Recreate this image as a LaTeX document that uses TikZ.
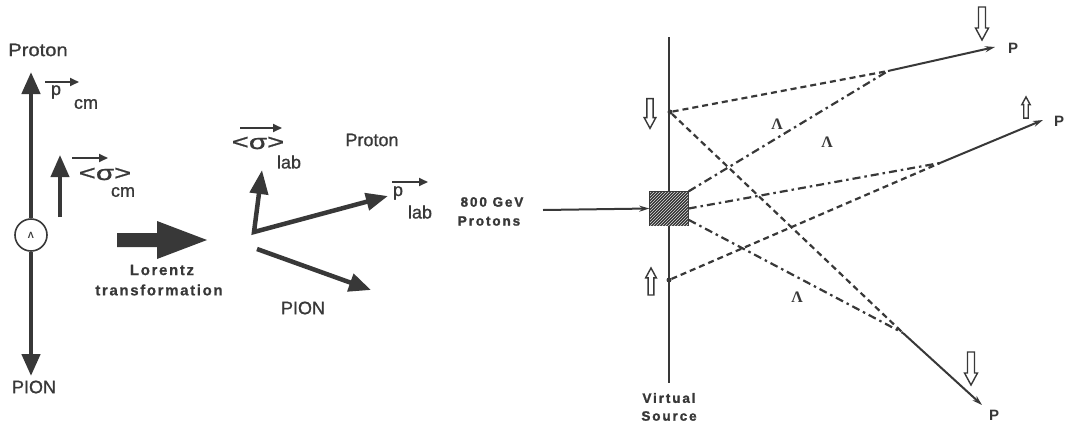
\documentclass[tikz,border=0pt]{standalone}
\usepackage{fontspec}
\setmainfont{Liberation Sans}
\newfontfamily\medfont[FakeBold=0.9]{Liberation Sans}
\newfontfamily\widebf[LetterSpace=14,FakeBold=1.5]{Liberation Sans}
\newfontfamily\midbf[LetterSpace=11,FakeBold=0.6]{Liberation Sans}
\newfontfamily\serifbf{Liberation Serif}
\usetikzlibrary{arrows.meta,patterns}
\definecolor{ink}{HTML}{383838}
\begin{document}
\begin{tikzpicture}[x=1pt,y=-1pt,
  every node/.style={text=ink, inner sep=0pt},
  lbl/.style={font=\medfont\fontsize{18}{18}\selectfont},
  sub/.style={font=\medfont\fontsize{18}{18}\selectfont},
  smallbf/.style={font=\widebf\bfseries\fontsize{13.5}{13.5}\selectfont},
  letterbf/.style={font=\serifbf\bfseries\fontsize{16}{16}\selectfont},
  bigarr/.style={draw=ink, line width=4.5pt, -{Triangle[length=22pt,width=18pt]}},
  vecarr/.style={draw=ink, line width=1.8pt, -{Triangle[length=9pt,width=8pt]}},
  track/.style={draw=ink, line width=2pt, -{Stealth[length=10pt,width=6pt]}},
  dashedtrk/.style={draw=ink, line width=2.2pt, dash pattern=on 6pt off 4pt},
  dashdot/.style={draw=ink, line width=2.2pt, dash pattern=on 8pt off 4pt on 2.5pt off 4pt},
  hdown/.pic={\draw[ink, line width=1.4pt, line join=miter] (-3.5,-16.5) -- (-3.5,4.5) -- (-6.5,4.5) -- (0,16.5) -- (6.5,4.5) -- (3.5,4.5) -- (3.5,-16.5) -- cycle;},
]
\useasboundingbox (0,0) rectangle (1067,429);
\fill[white] (0,0) rectangle (1067,429);

% ---------- left: centre-of-mass frame ----------
\node[circle, draw=ink, line width=1.6pt, minimum size=32pt, font=\bfseries\fontsize{9}{9}\selectfont] (lam) at (31,235) {Λ};
\coordinate (ptop) at (31,72);
\coordinate (pbot) at (31,376);
\draw[bigarr] (lam.north) -- (ptop);
\draw[bigarr] (lam.south) -- (pbot);
\node[lbl] (protL) at (38,50) {\scalebox{1.12}[1]{Proton}};
\node[lbl] (pionL) at (34,387) {PION};

\coordinate (sca) at (60,217);
\coordinate (scb) at (60,155);
\draw[bigarr, line width=4pt] (sca) -- (scb);

\node[sub] (pcm) at (56,92) {p};
\coordinate (pcv0) at (45,82);
\coordinate (pcv1) at (79,82);
\draw[vecarr] (pcv0) -- (pcv1);
\node[sub] (pcmsub) at (86,104) {cm};

\node[font=\medfont\fontsize{21}{21}\selectfont] (scm) at (105,174) {\scalebox{1.4}[1]{<σ>}};
\coordinate (scv0) at (72,158);
\coordinate (scv1) at (108,158);
\draw[vecarr] (scv0) -- (scv1);
\node[sub] (scmsub) at (123,192) {cm};

% ---------- Lorentz transformation arrow ----------
\fill[ink] (117,233) -- (157,233) -- (157,221) -- (207,240) -- (157,259) -- (157,247) -- (117,247) -- cycle;
\node[font=\midbf\bfseries\fontsize{15}{15}\selectfont] (lor1) at (162,270) {Lorentz};
\node[font=\midbf\bfseries\fontsize{15}{15}\selectfont] (lor2) at (159,290) {transformation};

% ---------- middle: lab frame ----------
\coordinate (O) at (254,232);
\coordinate (sl) at (262,170);
\coordinate (pl) at (388,196);
\coordinate (pi0) at (257,249);
\coordinate (pi1) at (371,290);
\draw[draw=ink, line width=4.5pt, line join=miter, {Triangle[length=24pt,width=18pt]}-{Triangle[length=22pt,width=17pt]}] (sl) -- (O) -- (pl);
\draw[bigarr] (pi0) -- (pi1);

\node[font=\medfont\fontsize{21}{21}\selectfont] (slab) at (258,143) {\scalebox{1.4}[1]{<σ>}};
\coordinate (slv0) at (240,128);
\coordinate (slv1) at (282,128);
\draw[vecarr] (slv0) -- (slv1);
\node[sub] (slabsub) at (289,162) {lab};

\node[lbl] (protM) at (372,140) {Proton};
\node[sub] (plab) at (398,193) {p};
\coordinate (plv0) at (392,182);
\coordinate (plv1) at (428,182);
\draw[vecarr] (plv0) -- (plv1);
\node[sub] (plabsub) at (420,212) {lab};
\node[lbl] (pionM) at (303,308) {PION};

\node[smallbf] (gev) at (492,202) {800 GeV};
\node[smallbf] (protons) at (489,221) {Protons};

% ---------- right: virtual source ----------
\coordinate (vt) at (669,37);
\coordinate (vb) at (669,383);
\draw[ink, line width=2.2pt] (vt) -- (vb);
\node[draw=ink, line width=1.4pt, fill=ink!85!black,
      postaction={pattern=north east lines, pattern color=white!75!gray},
      minimum width=38pt, minimum height=33pt] (box) at (669,208.5) {};

\coordinate (bm) at (543,210);
\draw[track] (bm) -- (box.west);

\node[circle, fill=ink, minimum size=5pt] (s1) at (670,112) {};
\node[circle, fill=ink, minimum size=5pt] (s2) at (669,280) {};

\coordinate (d1) at (888,71);
\coordinate (d2) at (940,163);
\coordinate (d3) at (903,333);
\coordinate (e1) at (995,47);
\coordinate (e2) at (1043,120);
\coordinate (e3) at (982,405);

\draw[dashdot] (box.north east) -- (d1);
\draw[dashdot] (box.east) -- (d2);
\draw[dashdot] (box.-30) -- (d3);
\draw[track] (d1) -- (e1);
\draw[track] (d2) -- (e2);
\draw[track] (d3) -- (e3);
\draw[dashedtrk] (s1) -- (d1);
\draw[dashedtrk] (s1) -- (d3);
\draw[dashedtrk] (s2) -- (d2);

\node[letterbf] (L1) at (777,124) {Λ};
\node[letterbf] (L2) at (827,142) {Λ};
\node[letterbf] (L3) at (797,297) {Λ};
\node[font=\bfseries\fontsize{15}{15}\selectfont] (P1) at (1013,48) {P};
\node[font=\bfseries\fontsize{15}{15}\selectfont] (P2) at (1059,121) {P};
\node[font=\bfseries\fontsize{15}{15}\selectfont] (P3) at (994,415) {P};

\node[smallbf] (vs1) at (669,398) {Virtual};
\node[smallbf] (vs2) at (669,416) {Source};

\pic at (982,23.5) {hdown};
\pic[scale=0.9] at (650,113.5) {hdown};
\pic[rotate=180, scale=0.82] at (651,281.5) {hdown};
\pic[rotate=180, scale=0.64] at (1026,107.5) {hdown};
\pic at (971,368.5) {hdown};
\end{tikzpicture}
\end{document}
